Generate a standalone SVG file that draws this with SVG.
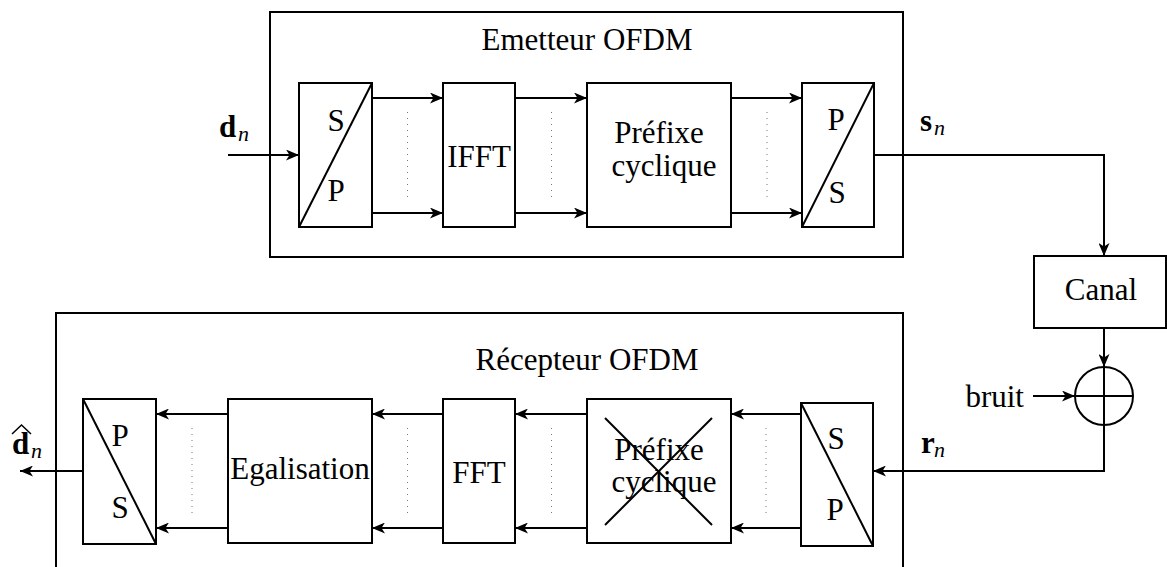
<svg xmlns="http://www.w3.org/2000/svg" width="1167" height="567" viewBox="0 0 1167 567">
<style>
.box{fill:none;stroke:#000;stroke-width:2}
.ln{fill:none;stroke:#000;stroke-width:2}
.dot{fill:none;stroke:#777;stroke-width:1;stroke-dasharray:1 5}
.t{font-family:"Liberation Serif","DejaVu Serif",serif;font-size:31px;fill:#000}
.c{text-anchor:middle}
.b{font-weight:bold}
.i{font-style:italic;font-size:22px}
</style>
<defs>
<marker id="ah" viewBox="0 0 13 11" refX="13" refY="5.5" markerWidth="13" markerHeight="11" markerUnits="userSpaceOnUse" orient="auto">
<path d="M0,0 L13,5.5 L0,11 L3.5,5.5 Z" fill="#000"/>
</marker>
</defs>
<rect width="1167" height="567" fill="#fff"/>

<g id="emetteur">
<rect class="box" x="270" y="12" width="633" height="245"/>
<text class="t c" x="587" y="50">Emetteur OFDM</text>
</g>
<g id="recepteur">
<rect class="box" x="56" y="313" width="847" height="280"/>
<text class="t c" x="587" y="370">Récepteur OFDM</text>
</g>

<g id="tx-sp">
<rect class="box" x="299" y="83" width="73" height="144"/>
<line class="ln" x1="299" y1="227" x2="372" y2="83"/>
<text class="t c" x="336" y="131">S</text>
<text class="t c" x="336" y="201">P</text>
</g>
<g id="tx-ifft">
<rect class="box" x="443" y="83" width="72" height="144"/>
<text class="t c" x="479" y="167">IFFT</text>
</g>
<g id="tx-prefixe">
<rect class="box" x="587" y="83" width="144" height="144"/>
<text class="t c" x="659" y="143">Préfixe</text>
<text class="t c" x="664" y="176">cyclique</text>
</g>
<g id="tx-ps">
<rect class="box" x="802" y="83" width="72" height="144"/>
<line class="ln" x1="802" y1="227" x2="874" y2="83"/>
<text class="t c" x="836" y="130">P</text>
<text class="t c" x="837" y="203">S</text>
</g>

<g id="canal">
<rect class="box" x="1034" y="256" width="132" height="72"/>
<text class="t c" x="1101" y="300">Canal</text>
</g>
<g id="adder">
<circle class="box" cx="1104" cy="396" r="29"/>
<line class="ln" x1="1075" y1="396" x2="1133" y2="396"/>
<line class="ln" x1="1104" y1="367" x2="1104" y2="425"/>
</g>

<g id="rx-sp">
<rect class="box" x="801" y="403" width="72" height="143"/>
<line class="ln" x1="801" y1="403" x2="873" y2="546"/>
<text class="t c" x="836" y="449">S</text>
<text class="t c" x="835" y="520">P</text>
</g>
<g id="rx-prefixe">
<rect class="box" x="587" y="399" width="144" height="144"/>
<text class="t c" x="659" y="460">Préfixe</text>
<text class="t c" x="664" y="492">cyclique</text>
<line class="ln" x1="605" y1="418" x2="712" y2="525"/>
<line class="ln" x1="712" y1="418" x2="605" y2="525"/>
</g>
<g id="rx-fft">
<rect class="box" x="443" y="399" width="72" height="144"/>
<text class="t c" x="479" y="483">FFT</text>
</g>
<g id="rx-egal">
<rect class="box" x="228" y="399" width="144" height="144"/>
<text class="t c" x="300" y="479">Egalisation</text>
</g>
<g id="rx-ps">
<rect class="box" x="83" y="399" width="73" height="145"/>
<line class="ln" x1="83" y1="399" x2="156" y2="544"/>
<text class="t c" x="120" y="446">P</text>
<text class="t c" x="120" y="518">S</text>
</g>

<g id="labels">
<text class="t b" x="219" y="137">d</text><text class="t i" x="238" y="141">n</text>
<text class="t b" x="920" y="131">s</text><text class="t i" x="934" y="135">n</text>
<text class="t b" x="921" y="453">r</text><text class="t i" x="934" y="457">n</text>
<text class="t b" x="12" y="454">d</text><text class="t i" x="31" y="458">n</text>
<polyline class="ln" points="12,434 21.5,425 31,434" style="stroke-width:1.5"/>
<text class="t" x="1024" y="407" text-anchor="end">bruit</text>
</g>

<g id="connectors">
<line class="ln" x1="228" y1="155" x2="299" y2="155" marker-end="url(#ah)"/>
<line class="ln" x1="372" y1="98" x2="443" y2="98" marker-end="url(#ah)"/>
<line class="ln" x1="372" y1="213" x2="443" y2="213" marker-end="url(#ah)"/>
<line class="ln" x1="515" y1="98" x2="587" y2="98" marker-end="url(#ah)"/>
<line class="ln" x1="515" y1="213" x2="587" y2="213" marker-end="url(#ah)"/>
<line class="ln" x1="731" y1="98" x2="802" y2="98" marker-end="url(#ah)"/>
<line class="ln" x1="731" y1="213" x2="802" y2="213" marker-end="url(#ah)"/>
<polyline class="ln" points="874,155 1104,155 1104,256" marker-end="url(#ah)"/>
<line class="ln" x1="1104" y1="328" x2="1104" y2="367" marker-end="url(#ah)"/>
<line class="ln" x1="1033" y1="396" x2="1075" y2="396" marker-end="url(#ah)"/>
<polyline class="ln" points="1104,425 1104,471 873,471" marker-end="url(#ah)"/>
<line class="ln" x1="801" y1="414" x2="731" y2="414" marker-end="url(#ah)"/>
<line class="ln" x1="801" y1="528" x2="731" y2="528" marker-end="url(#ah)"/>
<line class="ln" x1="587" y1="414" x2="515" y2="414" marker-end="url(#ah)"/>
<line class="ln" x1="587" y1="528" x2="515" y2="528" marker-end="url(#ah)"/>
<line class="ln" x1="443" y1="414" x2="372" y2="414" marker-end="url(#ah)"/>
<line class="ln" x1="443" y1="528" x2="372" y2="528" marker-end="url(#ah)"/>
<line class="ln" x1="228" y1="414" x2="156" y2="414" marker-end="url(#ah)"/>
<line class="ln" x1="228" y1="528" x2="156" y2="528" marker-end="url(#ah)"/>
<line class="ln" x1="83" y1="471" x2="20" y2="471" marker-end="url(#ah)"/>
<line class="dot" x1="407.5" y1="112" x2="407.5" y2="198"/>
<line class="dot" x1="551.5" y1="112" x2="551.5" y2="198"/>
<line class="dot" x1="767" y1="112" x2="767" y2="198"/>
<line class="dot" x1="192" y1="428" x2="192" y2="515"/>
<line class="dot" x1="407.5" y1="428" x2="407.5" y2="515"/>
<line class="dot" x1="551.5" y1="428" x2="551.5" y2="515"/>
<line class="dot" x1="766" y1="428" x2="766" y2="515"/>
</g>
</svg>
